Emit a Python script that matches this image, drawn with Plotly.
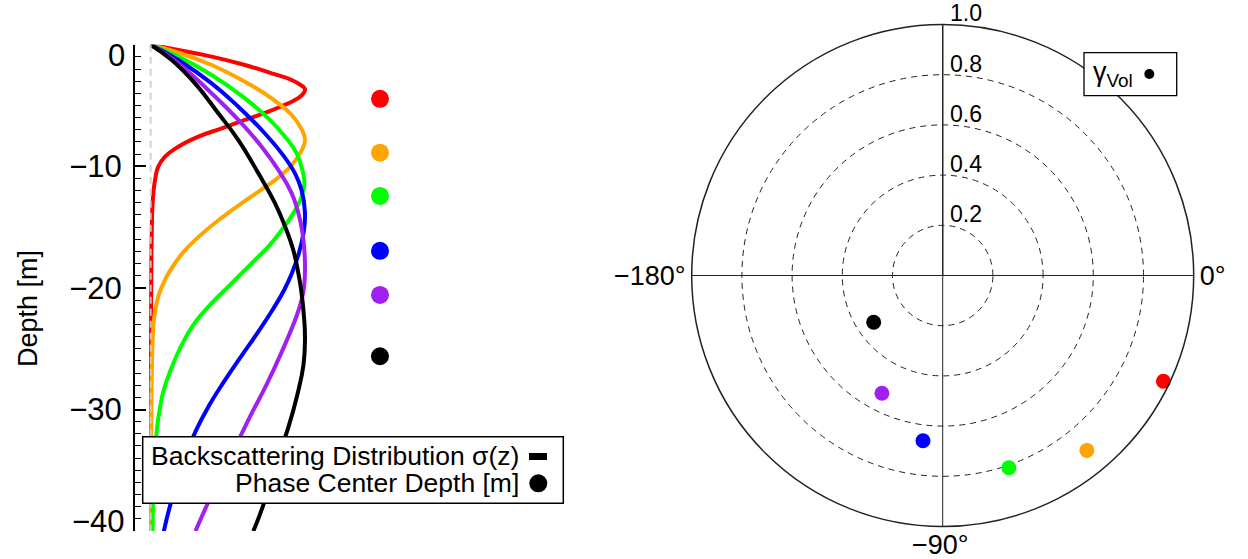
import plotly.graph_objects as go

W, H = 1248, 559
FONT = "Liberation Sans, Arial, Helvetica, sans-serif"

colors = ["#ff0000", "#ffa500", "#00ff00", "#0000ff", "#a020f0", "#000000"]

# Backscattering distributions sigma(z) (normalised)
red_depth = [0, -0.44, -0.98, -1.67, -2.35, -2.90, -3.3, -3.65, -4.0, -4.4, -4.82, -5.51, -6.19,
             -6.88, -7.56, -8.39, -9.21, -10.03, -11.13, -12.23, -13.32, -16.06, -20.17, -30, -40]
red_sigma = [0, 0.179, 0.395, 0.611, 0.784, 0.914, 0.97, 1.0, 0.99, 0.955, 0.892, 0.762, 0.611,
             0.460, 0.309, 0.179, 0.093, 0.049, 0.028, 0.017, 0.011, 0.006, 0.003, 0.002, 0.002]

orange_depth = [0, -0.7, -1.67, -3.04, -4.41, -5.78, -7.01, -7.8, -8.66, -9.89, -10.99,
                -11.68, -12.77, -14.14, -15.52, -17.16, -18.80, -19.6, -20.3, -20.9, -22.5, -24.2,
                -26.6, -30.7, -40]
orange_sigma = [0, 0.19, 0.395, 0.611, 0.784, 0.914, 0.98, 1.0, 0.98, 0.915, 0.82,
                0.745, 0.62, 0.47, 0.335, 0.205, 0.115, 0.083, 0.06, 0.045, 0.022, 0.013,
                0.008, 0.004, 0.002]

green_depth = [0, -0.98, -2.49, -4.41, -6.06, -7.56, -8.94, -10.30, -11.40, -12.50, -13.87, -15.24,
               -16.61, -17.98, -19.35, -20.17, -21.4, -23.05, -24.97, -26.89, -28.5, -29.9, -31.3,
               -35, -40]
green_sigma = [0, 0.179, 0.395, 0.611, 0.762, 0.871, 0.946, 0.983, 0.996, 0.978, 0.924, 0.849,
               0.762, 0.654, 0.546, 0.481, 0.385, 0.276, 0.19, 0.125, 0.082, 0.06, 0.043,
               0.022, 0.012]

blue_depth = [0, -1.26, -3.18, -5.10, -7.01, -8.94, -10.58, -11.96, -13.87, -15.52, -17.16, -18.80,
              -20.17, -21.8, -23.74, -25.65, -27.71, -29.63, -31.82, -34.56, -37.7, -40]
blue_sigma = [0, 0.179, 0.395, 0.568, 0.719, 0.849, 0.935, 0.978, 1.0, 0.99, 0.96, 0.915,
              0.865, 0.79, 0.69, 0.585, 0.475, 0.38, 0.29, 0.205, 0.13, 0.085]

purple_depth = [0, -1.53, -4.00, -6.19, -8.39, -10.30, -12.23, -14.42, -16.61, -18.4, -19.8, -21.0,
                -22.5, -25.24, -27.98, -30.18, -32.1, -35.0, -37.85, -40.0]
purple_sigma = [0, 0.179, 0.395, 0.568, 0.719, 0.827, 0.914, 0.968, 0.994, 1.0, 0.995, 0.978,
                0.94, 0.85, 0.75, 0.66, 0.585, 0.47, 0.365, 0.29]

black_depth = [0, -1.26, -3.18, -5.64, -7.84, -10.58, -13.05, -14.96, -16.88, -18.80, -20.17,
               -22.3, -24.15, -26.34, -28.8, -31.55, -34.5, -37.85, -40.0]
black_sigma = [0, 0.136, 0.287, 0.438, 0.568, 0.698, 0.806, 0.871, 0.924, 0.957, 0.975,
               0.993, 1.0, 0.99, 0.95, 0.89, 0.81, 0.73, 0.665]

# Phase centre depths [m]
phase_depth = [-4.45, -8.88, -12.44, -16.95, -20.58, -25.62]
phase_x = [1.486, 1.486, 1.486, 1.486, 1.486, 1.486]

# Volume coherence (polar): magnitude and phase [deg]
gamma_abs = [0.975, 0.903, 0.810, 0.663, 0.528, 0.332]
gamma_phase = [-25.6, -50.5, -71.0, -96.8, -117.3, -145.9]

y_tickvals = [0, -10, -20, -30, -40]
y_ticktext = ["", "\u221210", "\u221220", "\u221230", ""]
r_tickvals = [0.2, 0.4, 0.6, 0.8, 1.0]
r_ticktext = ["<sup>0.2</sup>", "<sup>0.4</sup>", "<sup>0.6</sup>", "<sup>0.8</sup>", "<sup>1.0</sup>"]
theta_tickvals = [0, 90, 180, 270]
theta_ticktext = ["0°", "", "\u2212180°", ""]

curves = [(red_depth, red_sigma), (orange_depth, orange_sigma), (green_depth, green_sigma),
          (blue_depth, blue_sigma), (purple_depth, purple_sigma), (black_depth, black_sigma)]

fig = go.Figure()
for (d, s), c in zip(curves, colors):
    fig.add_trace(go.Scatter(x=s, y=d, mode="lines",
                             line=dict(color=c, width=4, shape="spline", smoothing=1.3),
                             hoverinfo="skip", xaxis="x", yaxis="y"))
# zero line
fig.add_trace(go.Scatter(x=[0, 0], y=[0, -40], mode="lines",
                         line=dict(color="rgba(205,205,205,0.9)", width=2, dash="7px,5px"),
                         xaxis="x", yaxis="y", hoverinfo="skip"))
fig.add_trace(go.Scatter(x=phase_x, y=phase_depth, mode="markers",
                         marker=dict(color=colors, size=18, line=dict(width=0)), xaxis="x", yaxis="y"))

fig.add_trace(go.Scatterpolar(r=gamma_abs, theta=gamma_phase, mode="markers",
                              marker=dict(color=colors, size=15, line=dict(width=0))))


def px_x(p):
    return p / W


def px_y(p):
    return 1 - p / H


fig.update_layout(
    width=W, height=H, margin=dict(l=0, r=0, t=0, b=0),
    paper_bgcolor="white", plot_bgcolor="white", showlegend=False,
    font=dict(family=FONT, color="black"),
    xaxis=dict(domain=[134.7 / W, 563.3 / W], range=[-0.1037, 2.674], visible=False,
               showgrid=False, zeroline=False),
    yaxis=dict(domain=[1 - 531.1 / H, 1 - 44.7 / H], range=[-40, 0], showgrid=False, zeroline=False,
               showline=True, linecolor="black", linewidth=1.5,
               ticks="inside", ticklen=12, tickwidth=1.5, tickcolor="black",
               tickmode="array", tickvals=y_tickvals, ticktext=y_ticktext,
               tickfont=dict(size=31, family=FONT, color="black"), ticklabelstandoff=5,
               minor=dict(tickmode="linear", tick0=0, dtick=1, ticks="inside", ticklen=7,
                          tickwidth=1.2, tickcolor="black", showgrid=False)),
    polar=dict(
        domain=dict(x=[691.7 / W, 1193.7 / W], y=[1 - 526.5 / H, 1 - 24.5 / H]),
        bgcolor="white",
        radialaxis=dict(range=[0, 1], angle=90, tickangle=90, tickmode="array",
                        tickvals=r_tickvals, ticktext=r_ticktext, ticks="",
                        showline=True, linecolor="#222", linewidth=1.3,
                        showgrid=True, gridcolor="#222", gridwidth=1.3, griddash="6px,5px",
                        tickfont=dict(size=33, family=FONT, color="black")),
        angularaxis=dict(rotation=0, direction="counterclockwise", tickmode="array",
                         tickvals=theta_tickvals, ticktext=theta_ticktext, ticks="", ticklen=0,
                         showline=True, linecolor="#222", linewidth=1.5,
                         showgrid=True, gridcolor="#222", gridwidth=1.3, griddash="solid",
                         tickfont=dict(size=27, family=FONT, color="black")),
    ),
)

shapes = []
# left legend box
shapes.append(dict(type="rect", xref="paper", yref="paper", x0=px_x(142.7), x1=px_x(563.3),
                   y0=px_y(503.3), y1=px_y(436.7), fillcolor="white",
                   line=dict(color="black", width=1.5), layer="above"))
shapes.append(dict(type="rect", xref="paper", yref="paper", x0=px_x(529), x1=px_x(547),
                   y0=px_y(460), y1=px_y(453), fillcolor="black", line=dict(width=0), layer="above"))
shapes.append(dict(type="circle", xref="paper", yref="paper", x0=px_x(529.3), x1=px_x(547.3),
                   y0=px_y(492.3), y1=px_y(474.3), fillcolor="black", line=dict(width=0), layer="above"))
# polar legend box
shapes.append(dict(type="rect", xref="paper", yref="paper", x0=px_x(1084), x1=px_x(1176.7),
                   y0=px_y(95.7), y1=px_y(52.7), fillcolor="white",
                   line=dict(color="black", width=1.3), layer="above"))
shapes.append(dict(type="circle", xref="paper", yref="paper", x0=px_x(1144.3), x1=px_x(1154.3),
                   y0=px_y(79), y1=px_y(69), fillcolor="black", line=dict(width=0), layer="above"))
fig.update_layout(shapes=shapes)

ann = [
    dict(text="Depth [m]", x=px_x(28), y=px_y(309), textangle=-90, font=dict(size=27)),
    dict(text="0", x=px_x(127), y=px_y(56), xanchor="right", font=dict(size=31)),
    dict(text="\u221240", x=px_x(127), y=px_y(521), xanchor="right", font=dict(size=31)),
    dict(text="\u221290°", x=px_x(940), y=px_y(545), font=dict(size=27)),
    dict(text="Backscattering Distribution σ(z)", x=px_x(521), y=px_y(456), xanchor="right",
         font=dict(size=26.5)),
    dict(text="Phase Center Depth [m]", x=px_x(521), y=px_y(483), xanchor="right", font=dict(size=26.5)),
    dict(text="γ<sub>Vol</sub>", x=px_x(1091), y=px_y(74), xanchor="left", font=dict(size=27)),
]
for a in ann:
    a.update(xref="paper", yref="paper", showarrow=False, font=dict(family=FONT, color="black",
                                                                   size=a["font"]["size"]))
    a.setdefault("xanchor", "center")
    a["yanchor"] = "middle"
fig.update_layout(annotations=ann)

fig.write_html("out.html")
